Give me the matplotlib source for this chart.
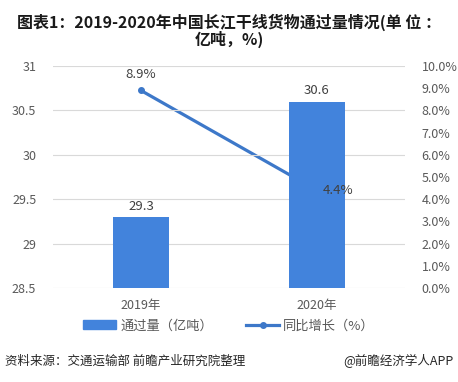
import matplotlib
matplotlib.use('Agg')
import matplotlib.pyplot as plt
from matplotlib.patches import Patch
from matplotlib.lines import Line2D

plt.rcParams['font.family'] = ['Noto Sans CJK SC', 'DejaVu Sans']

# data
years = ['2019年', '2020年']
volume = [29.3, 30.6]       # 亿吨
growth = [8.9, 4.4]         # %

bar_color = '#4283dc'
line_color = '#3d78c9'
grey = '#595959'

fig = plt.figure(figsize=(4.58, 3.82), dpi=100)
ax = fig.add_axes([0.1157, 0.246, 0.7686, 0.581])
ax2 = ax.twinx()
# bars above the line
ax.set_zorder(ax2.get_zorder() + 1)
ax.patch.set_visible(False)

x = range(len(years))
ax.bar(x, volume, width=0.314, color=bar_color, zorder=3)
for xi, v in zip(x, volume):
    ax.text(xi, v + 0.05, f'{v}', ha='center', va='bottom', fontsize=9.5, color='#404040')

ax.set_ylim(28.5, 31)
ax.set_yticks([28.5, 29, 29.5, 30, 30.5, 31])
ax.set_yticklabels(['28.5', '29', '29.5', '30', '30.5', '31'])
ax.set_xlim(-0.5, 1.5)
ax.set_xticks(list(x))
ax.set_xticklabels(years)
ax.grid(axis='y', color='#d9d9d9', linewidth=0.8, zorder=0)
ax.tick_params(length=0, colors=grey, labelsize=9)
ax.tick_params(axis='x', pad=8)
ax.tick_params(axis='y', pad=12)

ax2.plot(list(x), growth, color=line_color, linewidth=2.3, marker='o', markersize=4)
ax2.set_ylim(0, 10)
ax2.set_yticks(range(0, 11))
ax2.set_yticklabels([f'{t:.1f}%' for t in range(0, 11)])
ax2.tick_params(length=0, colors=grey, labelsize=9, pad=12)
# labels drawn on the top axes so they sit above the bars
ax.text(0, growth[0] + 0.45, f'{growth[0]}%', ha='center', va='bottom', fontsize=9.5,
        color='#404040', transform=ax2.transData, zorder=5)
ax.text(1.03, growth[1], f'{growth[1]}%', ha='left', va='center', fontsize=9.5,
        color='#404040', transform=ax2.transData, zorder=5)

for a in (ax, ax2):
    for s in a.spines.values():
        s.set_visible(False)

fig.text(0.5, 0.965, '图表1：2019-2020年中国长江干线货物通过量情况(单 位 ：\n亿吨，%)',
         ha='center', va='top', fontsize=11.5, fontweight='bold', color='#1a1a1a', linespacing=1.0)

handles = [Patch(color=bar_color), Line2D([], [], color=line_color, linewidth=2.3, marker='o', markersize=4)]
fig.legend(handles, ['通过量（亿吨）', '同比增长（%）'], loc='center', bbox_to_anchor=(0.5, 0.147),
           ncol=2, frameon=False, fontsize=9.5, labelcolor=grey, handlelength=2.5, columnspacing=2.5,
           handletextpad=0.3)

fig.text(0.01, 0.055, '资料来源：交通运输部 前瞻产业研究院整理', fontsize=9, color='#262626', va='center')
fig.text(0.99, 0.055, '@前瞻经济学人APP', fontsize=9, color='#262626', va='center', ha='right')

fig.savefig('out.png', dpi=100)
